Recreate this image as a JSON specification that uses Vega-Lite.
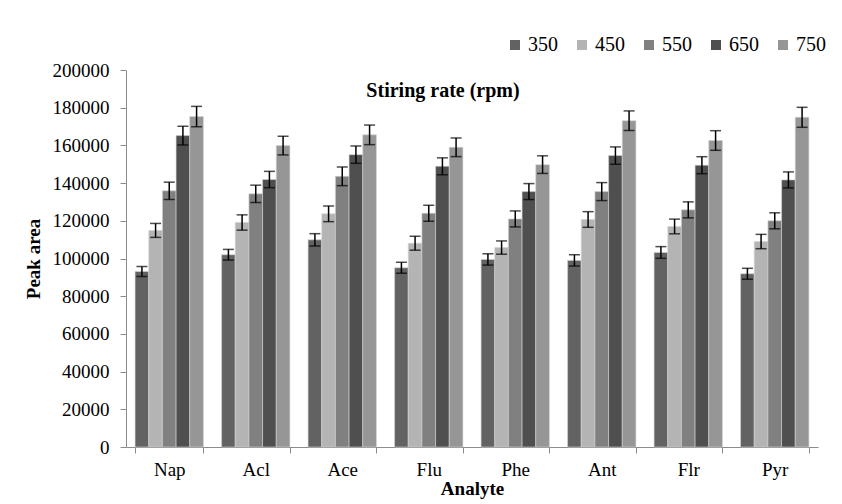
{
  "$schema": "https://vega.github.io/schema/vega-lite/v6.json",
  "width": 692,
  "height": 377,
  "autosize": {"type": "none"},
  "padding": {"left": 126, "top": 70, "right": 24, "bottom": 57},
  "background": "white",
  "title": {
    "text": "Stiring rate (rpm)",
    "font": "Liberation Serif",
    "fontSize": 20,
    "fontWeight": "bold",
    "color": "black",
    "anchor": "middle",
    "dx": -29,
    "dy": 70
  },
  "data": {
    "values": [
      {"Analyte": "Nap", "Rate": "350", "Area": 93100, "Lo": 90450, "Hi": 95750},
      {"Analyte": "Nap", "Rate": "450", "Area": 114900, "Lo": 111200, "Hi": 118600},
      {"Analyte": "Nap", "Rate": "550", "Area": 135900, "Lo": 131300, "Hi": 140500},
      {"Analyte": "Nap", "Rate": "650", "Area": 165200, "Lo": 160250, "Hi": 170150},
      {"Analyte": "Nap", "Rate": "750", "Area": 175300, "Lo": 169900, "Hi": 180700},
      {"Analyte": "Acl", "Rate": "350", "Area": 102000, "Lo": 99170, "Hi": 104830},
      {"Analyte": "Acl", "Rate": "450", "Area": 119100, "Lo": 115040, "Hi": 123160},
      {"Analyte": "Acl", "Rate": "550", "Area": 134300, "Lo": 129700, "Hi": 138900},
      {"Analyte": "Acl", "Rate": "650", "Area": 141900, "Lo": 137570, "Hi": 146230},
      {"Analyte": "Acl", "Rate": "750", "Area": 159900, "Lo": 154950, "Hi": 164850},
      {"Analyte": "Ace", "Rate": "350", "Area": 109900, "Lo": 106630, "Hi": 113170},
      {"Analyte": "Ace", "Rate": "450", "Area": 123700, "Lo": 119550, "Hi": 127850},
      {"Analyte": "Ace", "Rate": "550", "Area": 143600, "Lo": 138650, "Hi": 148550},
      {"Analyte": "Ace", "Rate": "650", "Area": 155100, "Lo": 150500, "Hi": 159700},
      {"Analyte": "Ace", "Rate": "750", "Area": 165600, "Lo": 160400, "Hi": 170800},
      {"Analyte": "Flu", "Rate": "350", "Area": 95100, "Lo": 92200, "Hi": 98000},
      {"Analyte": "Flu", "Rate": "450", "Area": 108100, "Lo": 104400, "Hi": 111800},
      {"Analyte": "Flu", "Rate": "550", "Area": 124000, "Lo": 119760, "Hi": 128240},
      {"Analyte": "Flu", "Rate": "650", "Area": 148900, "Lo": 144400, "Hi": 153400},
      {"Analyte": "Flu", "Rate": "750", "Area": 159000, "Lo": 154050, "Hi": 163950},
      {"Analyte": "Phe", "Rate": "350", "Area": 99500, "Lo": 96500, "Hi": 102500},
      {"Analyte": "Phe", "Rate": "450", "Area": 105800, "Lo": 102270, "Hi": 109330},
      {"Analyte": "Phe", "Rate": "550", "Area": 121000, "Lo": 116760, "Hi": 125240},
      {"Analyte": "Phe", "Rate": "650", "Area": 135500, "Lo": 131260, "Hi": 139740},
      {"Analyte": "Phe", "Rate": "750", "Area": 149800, "Lo": 145120, "Hi": 154480},
      {"Analyte": "Ant", "Rate": "350", "Area": 99000, "Lo": 96000, "Hi": 102000},
      {"Analyte": "Ant", "Rate": "450", "Area": 120700, "Lo": 116550, "Hi": 124850},
      {"Analyte": "Ant", "Rate": "550", "Area": 135500, "Lo": 130730, "Hi": 140270},
      {"Analyte": "Ant", "Rate": "650", "Area": 154600, "Lo": 150000, "Hi": 159200},
      {"Analyte": "Ant", "Rate": "750", "Area": 173100, "Lo": 167900, "Hi": 178300},
      {"Analyte": "Flr", "Rate": "350", "Area": 103200, "Lo": 100100, "Hi": 106300},
      {"Analyte": "Flr", "Rate": "450", "Area": 117000, "Lo": 113100, "Hi": 120900},
      {"Analyte": "Flr", "Rate": "550", "Area": 125800, "Lo": 121560, "Hi": 130040},
      {"Analyte": "Flr", "Rate": "650", "Area": 149500, "Lo": 145000, "Hi": 154000},
      {"Analyte": "Flr", "Rate": "750", "Area": 162600, "Lo": 157400, "Hi": 167800},
      {"Analyte": "Pyr", "Rate": "350", "Area": 91900, "Lo": 89000, "Hi": 94800},
      {"Analyte": "Pyr", "Rate": "450", "Area": 109000, "Lo": 105200, "Hi": 112800},
      {"Analyte": "Pyr", "Rate": "550", "Area": 120000, "Lo": 115760, "Hi": 124240},
      {"Analyte": "Pyr", "Rate": "650", "Area": 141700, "Lo": 137460, "Hi": 145940},
      {"Analyte": "Pyr", "Rate": "750", "Area": 174900, "Lo": 169600, "Hi": 180200}
    ]
  },
  "encoding": {
    "x": {
      "field": "Analyte",
      "type": "nominal",
      "sort": ["Nap", "Acl", "Ace", "Flu", "Phe", "Ant", "Flr", "Pyr"],
      "scale": {"paddingInner": 0.21, "paddingOuter": 0.105},
      "axis": {
        "title": "Analyte",
        "labelAngle": 0,
        "tickBand": "extent",
        "labelPadding": 7,
        "titlePadding": 0
      }
    },
    "xOffset": {
      "field": "Rate",
      "type": "nominal",
      "scale": {"paddingInner": 0, "paddingOuter": 0}
    }
  },
  "layer": [
    {
      "mark": {"type": "bar", "stroke": "#d4d4d4", "strokeWidth": 0.6},
      "encoding": {
        "y": {
          "field": "Area",
          "type": "quantitative",
          "scale": {"domain": [0, 200000], "nice": false},
          "axis": {
            "title": "Peak area",
            "tickCount": 10,
            "labelExpr": "format(datum.value, 'd')",
            "grid": false,
            "labelOverlap": false,
            "labelPadding": 11,
            "titlePadding": 9
          }
        },
        "color": {
          "field": "Rate",
          "type": "nominal",
          "scale": {
            "domain": ["350", "450", "550", "650", "750"],
            "range": ["#626262", "#b4b4b4", "#808080", "#4f4f4f", "#969696"]
          },
          "legend": {
            "title": null,
            "orient": "none",
            "direction": "horizontal",
            "legendX": 379,
            "legendY": -35,
            "symbolType": "square",
            "symbolSize": 100,
            "symbolStrokeWidth": 0,
            "labelFont": "Liberation Serif",
            "labelFontSize": 20,
            "labelColor": "black",
            "columnPadding": 14,
            "labelOffset": 3
          }
        }
      }
    },
    {
      "mark": {"type": "rule", "color": "black", "strokeWidth": 1.5},
      "encoding": {
        "y": {"field": "Lo", "type": "quantitative", "axis": {"title": "Peak area", "tickCount": 10, "labelExpr": "format(datum.value, 'd')", "grid": false, "labelOverlap": false, "labelPadding": 11, "titlePadding": 9}},
        "y2": {"field": "Hi"}
      }
    },
    {
      "mark": {"type": "tick", "color": "black", "thickness": 1.5, "size": 11},
      "encoding": {"y": {"field": "Lo", "type": "quantitative", "axis": {"title": "Peak area", "tickCount": 10, "labelExpr": "format(datum.value, 'd')", "grid": false, "labelOverlap": false, "labelPadding": 11, "titlePadding": 9}}}
    },
    {
      "mark": {"type": "tick", "color": "black", "thickness": 1.5, "size": 11},
      "encoding": {"y": {"field": "Hi", "type": "quantitative", "axis": {"title": "Peak area", "tickCount": 10, "labelExpr": "format(datum.value, 'd')", "grid": false, "labelOverlap": false, "labelPadding": 11, "titlePadding": 9}}}
    }
  ],
  "config": {
    "view": {"stroke": null},
    "font": "Liberation Serif",
    "legend": {"labelFont": "Liberation Serif", "labelFontSize": 20, "labelColor": "black"},
    "axis": {
      "labelFont": "Liberation Serif",
      "labelFontSize": 19,
      "labelColor": "black",
      "titleFont": "Liberation Serif",
      "titleFontSize": 19,
      "titleFontWeight": "bold",
      "titleColor": "black",
      "domainColor": "#8c8c8c",
      "tickColor": "#8c8c8c",
      "tickSize": 6
    }
  }
}
